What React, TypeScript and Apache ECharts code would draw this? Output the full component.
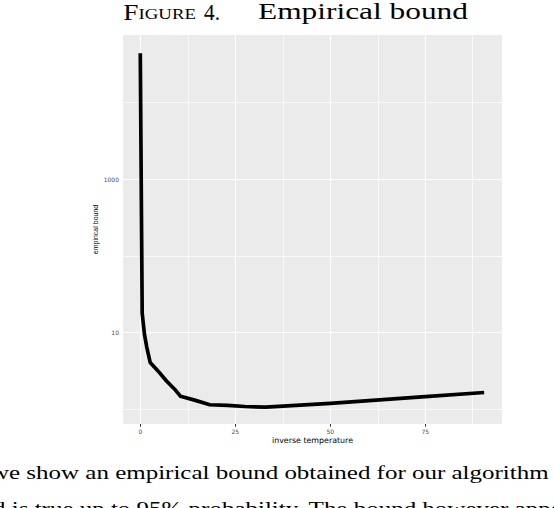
import React, { useEffect, useRef } from "react";
import * as echarts from "echarts";

// ---- data ----
const inverseTemperature = [0, 0.5, 1.1, 1.7, 2.6, 4.6, 6.9, 9.1, 10.6, 14.3, 18.3, 23, 27.5, 33, 50, 75, 90.5];
const empiricalBound = [44000, 18, 9.5, 6.5, 4.1, 3.2, 2.35, 1.82, 1.48, 1.32, 1.15, 1.13, 1.09, 1.07, 1.2, 1.47, 1.66];
const xTickValues = [0, 25, 50, 75];
const xMinorValues = [12.5, 37.5, 62.5, 87.5];
const yTickValues = [10, 1000];
const yMinorValues = [1, 100, 10000];
const xLimits = [-4.55, 95.2];
const yLimits = [0.645, 76000];
const xTitle = "inverse temperature";
const yTitle = "empirical bound";
const titleParts = ["F", "IGURE", "4.", "Empirical bound"];
const bodyLines = [
  "we show an empirical bound obtained for our algorithm",
  "d is true up to 95% probability. The bound however appears",
];

const SERIF = '"Liberation Serif", "Times New Roman", serif';
const CENTRAL = 0.3375; // central baseline offset of Liberation Serif (em)

function measure(text: string, size: number, family: string) {
  const c = document.createElement("canvas").getContext("2d");
  if (!c) return text.length * size * 0.5;
  c.font = `${size}px ${family}`;
  return c.measureText(text).width;
}

function serifText(text: string, size: number, left: number, right: number, baseline: number) {
  const w = measure(text, size, SERIF);
  return {
    type: "text",
    x: left,
    y: baseline - CENTRAL * size,
    scaleX: (right - left) / w,
    silent: true,
    style: {
      text,
      fontSize: size,
      fontFamily: SERIF,
      fill: "#000000",
      align: "left",
      verticalAlign: "middle",
      textAlign: "left",
      textVerticalAlign: "middle",
    },
  };
}

export default function App() {
  const ref = useRef<HTMLDivElement>(null);

  useEffect(() => {
    if (!ref.current) return;
    const chart = echarts.init(ref.current, null, { renderer: "svg" });

    const big = 22.5;
    const small = 15.5;
    const titleBase = 19.5;
    const wF = measure(titleParts[0], big, SERIF);
    const wI = measure(titleParts[1], small, SERIF);
    const sFig = (196 - 123.3) / (wF + wI);

    const bodySize = 18;
    const w1 = measure(bodyLines[0], bodySize, SERIF);
    const sBody = (549 + 9) / w1;

    const graphics: any[] = [
      {
        type: "text",
        x: 123.3,
        y: titleBase - CENTRAL * big,
        scaleX: sFig,
        silent: true,
        style: { text: titleParts[0], fontSize: big, fontFamily: SERIF, fill: "#000", align: "left", verticalAlign: "middle" },
      },
      {
        type: "text",
        x: 123.3 + wF * sFig,
        y: titleBase - CENTRAL * small,
        scaleX: sFig,
        silent: true,
        style: { text: titleParts[1], fontSize: small, fontFamily: SERIF, fill: "#000", align: "left", verticalAlign: "middle" },
      },
      serifText(titleParts[2], big, 204, 220, titleBase),
      serifText(titleParts[3], big, 258, 468, titleBase),
      {
        type: "text",
        x: -9,
        y: 479 - CENTRAL * bodySize,
        scaleX: sBody,
        silent: true,
        style: { text: bodyLines[0], fontSize: bodySize, fontFamily: SERIF, fill: "#000", align: "left", verticalAlign: "middle" },
      },
      {
        type: "text",
        x: -7,
        y: 515 - CENTRAL * bodySize,
        scaleX: sBody,
        silent: true,
        style: { text: bodyLines[1], fontSize: bodySize, fontFamily: SERIF, fill: "#000", align: "left", verticalAlign: "middle" },
      },
    ];

    const points = inverseTemperature.map((x, i) => [x, empiricalBound[i]]);

    const option: any = {
      animation: false,
      grid: {
        left: 123,
        top: 35,
        width: 379,
        height: 389,
        show: true,
        backgroundColor: "#EBEBEB",
        borderWidth: 0,
        containLabel: false,
        outerBoundsMode: "none",
      },
      xAxis: {
        type: "value",
        min: xLimits[0],
        max: xLimits[1],
        axisLine: { show: false },
        splitLine: { show: false },
        axisTick: {
          show: true,
          length: 2.7,
          customValues: xTickValues,
          lineStyle: { color: "#333333", width: 1 },
        },
        axisLabel: {
          customValues: xTickValues,
          fontSize: 6,
          fontFamily: "DejaVu Sans",
          color: "#4D4D4D",
          margin: 4,
        },
        name: xTitle,
        nameLocation: "middle",
        nameGap: 12,
        nameMoveOverlap: false,
        nameTextStyle: { fontSize: 7.9, fontFamily: "DejaVu Sans", color: "#000000" },
      },
      yAxis: {
        type: "log",
        logBase: 10,
        min: yLimits[0],
        max: yLimits[1],
        axisLine: { show: false },
        splitLine: { show: false },
        minorSplitLine: { show: false },
        axisTick: {
          show: true,
          length: 2.7,
          customValues: yTickValues,
          lineStyle: { color: "#333333", width: 1 },
        },
        axisLabel: {
          customValues: yTickValues,
          fontSize: 6,
          fontFamily: "DejaVu Sans",
          color: "#4D4D4D",
          margin: 4,
          formatter: (v: number) => String(Math.round(v)),
        },
        name: yTitle,
        nameLocation: "middle",
        nameRotate: 90,
        nameGap: 24,
        nameMoveOverlap: false,
        nameTextStyle: { fontSize: 7, fontFamily: "Liberation Sans", color: "#000000" },
      },
      series: [
        {
          type: "line",
          data: [],
          z: 1,
          silent: true,
          clip: false,
          markLine: {
            silent: true,
            z: 1,
            symbol: ["none", "none"],
            label: { show: false },
            emphasis: { disabled: true },
            lineStyle: { color: "#FFFFFF", type: "solid", width: 1.1 },
            data: [
              ...xTickValues.map((v) => ({ xAxis: v })),
              ...xMinorValues.map((v) => ({ xAxis: v, lineStyle: { width: 0.7 } })),
              ...yTickValues.map((v) => ({ yAxis: v })),
              ...yMinorValues.map((v) => ({ yAxis: v, lineStyle: { width: 0.7 } })),
            ],
          },
        },
        {
          type: "line",
          data: points,
          z: 3,
          symbol: "none",
          showSymbol: false,
          silent: true,
          lineStyle: { color: "#000000", width: 3.7, cap: "butt", join: "round" },
        },
      ],
      graphic: graphics,
    };

    chart.setOption(option);
    return () => chart.dispose();
  }, []);

  return (
    <div
      ref={ref}
      style={{ position: "absolute", left: 0, top: 0, width: 554, height: 508, background: "#FFFFFF" }}
    />
  );
}
